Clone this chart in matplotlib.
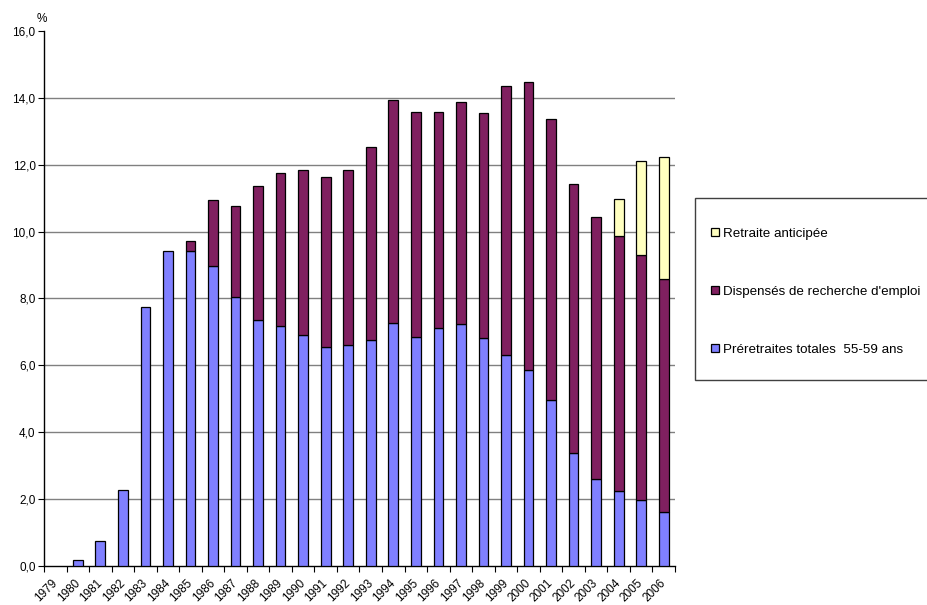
import numpy as np
import matplotlib
matplotlib.use("Agg")
import matplotlib.pyplot as plt
import matplotlib.transforms as mtransforms
from matplotlib.patches import Rectangle, Patch

plt.rcParams['font.family'] = ['Liberation Sans', 'DejaVu Sans']

years = [str(y) for y in range(1979, 2007)]

# taux par composante, en %
preretraites = [0.0, 0.17, 0.76, 2.26, 7.75, 9.42, 9.41, 8.98, 8.04, 7.37,
                7.19, 6.90, 6.55, 6.61, 6.76, 7.26, 6.85, 7.13, 7.25, 6.83,
                6.30, 5.87, 4.96, 3.37, 2.60, 2.23, 1.98, 1.61]
dispenses = [0.0, 0.0, 0.0, 0.0, 0.0, 0.0, 0.31, 1.96, 2.74, 3.99,
             4.55, 4.94, 5.09, 5.22, 5.77, 6.68, 6.73, 6.46, 6.63, 6.72,
             8.05, 8.60, 8.42, 8.04, 7.85, 7.64, 7.32, 6.96]
retraite_ant = [0.0] * 25 + [1.12, 2.81, 3.66]

labels = ["Retraite anticipée",
          "Dispensés de recherche d'emploi",
          "Préretraites totales  55-59 ans"]
colors = ["#FFFFC0", "#802060", "#8080FF"]

fig = plt.figure(figsize=(9.28, 6.05), dpi=100)
ax = fig.add_axes([44 / 928, 1 - 566 / 605, (675 - 44) / 928, (566 - 31) / 605])

x = np.arange(len(years))
w = 0.43
kw = dict(width=w, edgecolor="black", linewidth=0.9, zorder=3)
b1 = ax.bar(x, preretraites, color=colors[2], **kw)
bottom2 = np.array(preretraites)
b2 = ax.bar(x, dispenses, bottom=bottom2, color=colors[1], **kw)
bottom3 = bottom2 + np.array(dispenses)
b3 = ax.bar(x, retraite_ant, bottom=bottom3, color=colors[0], **kw)

# hide zero-height pieces
for cont, vals in ((b1, preretraites), (b2, dispenses), (b3, retraite_ant)):
    for rect, v in zip(cont, vals):
        if v == 0:
            rect.set_visible(False)

ax.set_xlim(-0.5, len(years) - 0.5)
ax.set_ylim(0, 16)
yt = np.arange(0, 17, 2)
ax.set_yticks(yt)
ax.set_yticklabels([f"{v:.1f}".replace(".", ",") for v in yt], fontsize=8.5)
for v in yt[1:-1]:
    ax.axhline(v, color="#808080", linewidth=1.0, zorder=1)

ax.set_xticks(x)
ax.set_xticklabels(years, fontsize=8.5, rotation=45, ha="right", va="top",
                   rotation_mode="anchor")
ax.tick_params(axis="x", which="major", length=0, pad=0)
# push the year labels down and a little to the left
shift = mtransforms.ScaledTranslation(-4 / 100, -11 / 100, fig.dpi_scale_trans)
for lab in ax.get_xticklabels():
    lab.set_transform(lab.get_transform() + shift)
ax.set_xticks(np.arange(-0.5, len(years)), minor=True)
ax.tick_params(axis="x", which="minor", length=4, width=0.8, color="black")
ax.tick_params(axis="y", length=4, width=0.8, pad=2)

for s in ("top", "right"):
    ax.spines[s].set_visible(False)
for s in ("left", "bottom"):
    ax.spines[s].set_linewidth(1.0)
    ax.spines[s].set_color("black")

fig.text(37 / 928, 1 - 19 / 605, "%", fontsize=8.5, ha="left", va="center")

# legend frame, running past the right edge of the figure
fig.patches.append(Rectangle((695 / 928, 1 - 380 / 605), 0.5, (380 - 198) / 605,
                             transform=fig.transFigure, facecolor="white",
                             edgecolor="#404040", linewidth=1.0, zorder=0))
handles = [Patch(facecolor=c, edgecolor="black", linewidth=0.9) for c in colors]
leg = fig.legend(handles, labels, loc="upper left",
                 bbox_to_anchor=(704 / 928, 1 - 221 / 605),
                 frameon=False, fontsize=9.6, handlelength=0.6, handleheight=0.6,
                 handletextpad=0.3, labelspacing=3.45, borderpad=0)

fig.savefig("out.png", dpi=100)
